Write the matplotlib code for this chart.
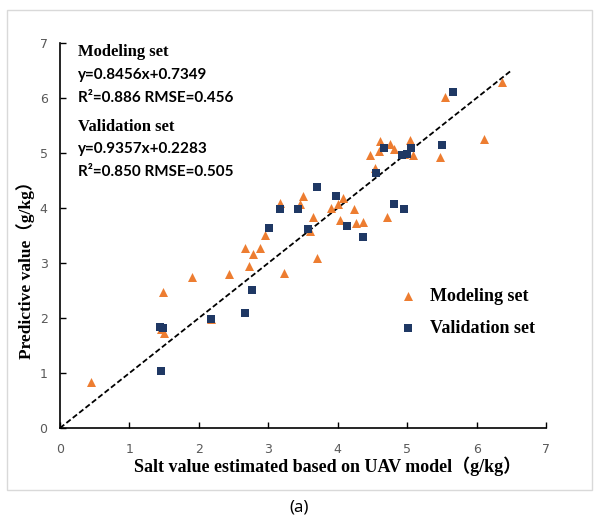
import numpy as np
import matplotlib.pyplot as plt
from matplotlib.patches import Rectangle

# du lieu: modeling set
model_x = [0.45, 1.46, 1.48, 1.50, 1.90, 2.17, 2.44, 2.67, 2.72, 2.78, 2.88, 2.95,
           3.17, 3.23, 3.45, 3.50, 3.60, 3.65, 3.70, 3.90, 4.00, 4.04, 4.08, 4.23,
           4.27, 4.36, 4.47, 4.53, 4.59, 4.61, 4.71, 4.76, 4.81, 4.96, 5.04, 5.09,
           5.48, 5.55, 6.11, 6.36]
model_y = [0.83, 1.80, 2.48, 1.72, 2.74, 1.98, 2.80, 3.28, 2.95, 3.16, 3.28, 3.51,
           4.10, 2.81, 4.07, 4.22, 3.58, 3.84, 3.09, 4.00, 4.08, 3.78, 4.19, 3.98,
           3.73, 3.75, 4.97, 4.73, 5.04, 5.21, 3.83, 5.17, 5.07, 4.98, 5.23, 4.97,
           4.92, 6.01, 5.25, 6.30]

# du lieu: validation set
valid_x = [1.46, 1.44, 1.49, 2.17, 2.67, 2.77, 3.01, 3.17, 3.43, 3.57, 3.70, 3.97,
           4.14, 4.37, 4.55, 4.67, 4.81, 4.92, 4.96, 5.00, 5.05, 5.50, 5.66]
valid_y = [1.04, 1.84, 1.82, 1.99, 2.09, 2.51, 3.64, 3.99, 3.99, 3.61, 4.39, 4.22,
           3.68, 3.47, 4.64, 5.10, 4.07, 4.96, 3.99, 4.99, 5.10, 5.14, 6.11]

line_end = 6.5
ticks = [0, 1, 2, 3, 4, 5, 6, 7]

serif = ['Liberation Serif', 'Noto Sans CJK SC']
orange = '#ED7D31'
navy = '#1F3864'

fig = plt.figure(figsize=(5.99, 5.20), dpi=100)
ax = fig.add_axes([0.1002, 0.1769, 0.8113, 0.7404])

# khung vien xam
fig.patches.append(Rectangle((7/599, 1-490/520), 585/599, 480/520,
                             transform=fig.transFigure, fill=False,
                             edgecolor='#d9d9d9', linewidth=1))

# duong 1:1
ax.plot([0, line_end], [0, line_end], color='black', linestyle=(0, (3, 1.5)),
        linewidth=1.3, zorder=1)

ax.scatter(model_x, model_y, marker='^', s=42, color=orange, linewidths=0,
           zorder=2, label='Modeling set')
ax.scatter(valid_x, valid_y, marker='s', s=28, color=navy, linewidths=0,
           zorder=3, label='Validation set')

ax.set_xlim(0, 7)
ax.set_ylim(0, 7)
ax.set_xticks(ticks)
ax.set_yticks(ticks)
ax.tick_params(direction='in', length=4, width=1, labelsize=9,
               labelcolor='#595959')
ax.tick_params(axis='x', pad=11)
ax.tick_params(axis='y', pad=9)
ax.spines['top'].set_visible(False)
ax.spines['right'].set_visible(False)
for s in ['left', 'bottom']:
    ax.spines[s].set_linewidth(1.2)

ax.set_xlabel('Salt value estimated based on UAV model（g/kg）',
              family=serif, fontweight='bold', fontsize=13)
ax.xaxis.set_label_coords(0.55, -0.075)
ax.set_ylabel('Predictive value（g/kg）', family=serif,
              fontweight='bold', fontsize=12.5)
ax.yaxis.set_label_coords(-0.052, 0.42)

# chu thich phuong trinh
x0 = 18/486
ax.text(x0, 1-9/385, 'Modeling set', transform=ax.transAxes,
        family=serif, fontweight='bold', fontsize=12, va='center')
ax.text(x0, 1-32/385, 'y=0.8456x+0.7349', transform=ax.transAxes,
        family='Lato', fontweight='bold', fontsize=11, va='center')
ax.text(x0, 1-55/385, 'R²=0.886 RMSE=0.456', transform=ax.transAxes,
        family='Lato', fontweight='bold', fontsize=11, va='center')
ax.text(x0, 1-84/385, 'Validation set', transform=ax.transAxes,
        family=serif, fontweight='bold', fontsize=12, va='center')
ax.text(x0, 1-106/385, 'y=0.9357x+0.2283', transform=ax.transAxes,
        family='Lato', fontweight='bold', fontsize=11, va='center')
ax.text(x0, 1-129/385, 'R²=0.850 RMSE=0.505', transform=ax.transAxes,
        family='Lato', fontweight='bold', fontsize=11, va='center')

leg = ax.legend(loc='upper left', bbox_to_anchor=(330/486, 1-238/385),
                frameon=False, prop={'family': serif, 'weight': 'bold', 'size': 13},
                handletextpad=0.6, labelspacing=0.8, handlelength=1.2,
                borderaxespad=0)

fig.text(0.5, 1-508/520, '(a)', ha='center', va='center', fontsize=12,
         family='Noto Sans')

plt.savefig('out.png', dpi=100)
